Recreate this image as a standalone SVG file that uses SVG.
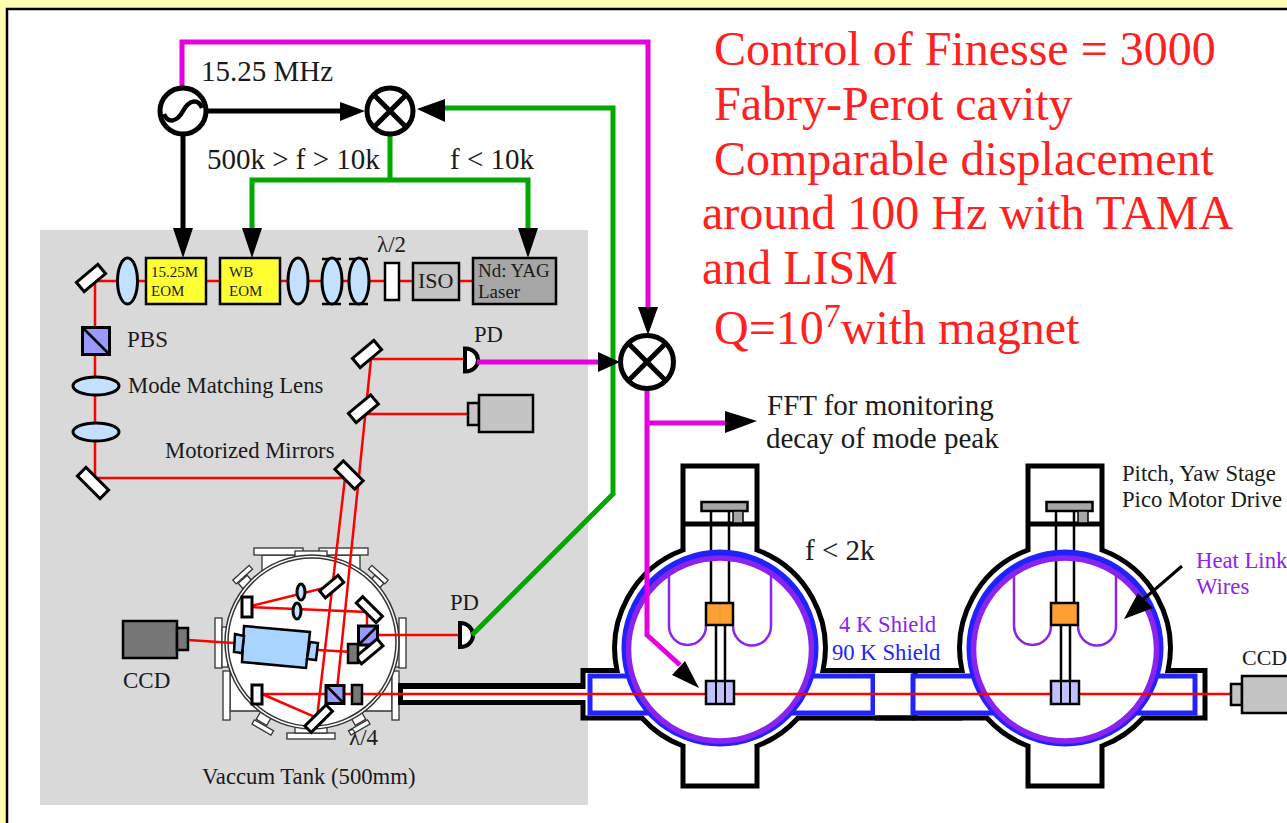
<svg xmlns="http://www.w3.org/2000/svg" xmlns:xlink="http://www.w3.org/1999/xlink" width="1287" height="823" viewBox="0 0 1287 823">
<style>
text{font-family:"Liberation Serif","Times New Roman",serif;fill:#1a1a1a}
.red{fill:#ff2020;font-size:48px}
.s{font-size:22.700px}
.b{font-size:29px}
.mir{fill:#fff;stroke:#000;stroke-width:3}
.lens{fill:#c4e0ff;stroke:#000;stroke-width:3}
.beam{fill:none;stroke:#ff0000;stroke-width:2.500}
.fl{fill:#fff;stroke:#333;stroke-width:1.300}
.pbs{fill:#9999ff;stroke:#000;stroke-width:3}
.gr{fill:none;stroke:#00a800;stroke-width:5}
.mg{fill:none;stroke:#e600e0;stroke-width:5}
.bk{fill:none;stroke:#000;stroke-width:5}
.wall{fill:#fff;stroke:#000;stroke-width:5;stroke-linejoin:miter}
.blue{fill:#fff;stroke:#2222ff;stroke-width:5}
</style>
<defs>
<g id="susp">
<circle cx="720" cy="648" r="95" fill="#fff"/>
<rect x="701.500" y="502" width="46" height="9" fill="#a6a6a6" stroke="#000" stroke-width="2.500"/>
<rect x="733" y="511" width="10" height="12" fill="#a6a6a6" stroke="#000" stroke-width="1.500"/>
<path d="M711 511V603M729 511V603M716 625V681M725 625V681" stroke="#000" stroke-width="2.500" fill="none"/>
<path d="M669 575V626A18.500 19 0 0 0 706 626M771 575V626A18.500 19 0 0 1 733 626" fill="none" stroke="#8a22f0" stroke-width="2.500"/>
<rect x="706" y="603" width="27" height="22" fill="#ff9f33" stroke="#000" stroke-width="2.500"/>
<circle cx="720" cy="648" r="95" fill="none" stroke="#2222ff" stroke-width="7"/>
<circle cx="720" cy="649.500" r="91.500" fill="none" stroke="#8a22f0" stroke-width="5.500"/>
</g>
<g id="test-mass">
<rect x="706" y="681" width="28" height="23" fill="#c0c0ff" stroke="#000" stroke-width="2.500"/>
<path d="M716 681V704M725 681V704" stroke="#000" stroke-width="2"/>
</g>
</defs>
<rect width="1287" height="823" fill="#ffffb0"/>
<rect x="7" y="9" width="1290" height="830" fill="#fff" stroke="#000" stroke-width="2.500"/>
<rect x="40" y="230" width="548" height="575" fill="#d9d9d9"/>

<g id="vacuum-tank">
<path class="fl" d="M262 555V580H360V555ZM230 674V711H262V674ZM392 674V711H360V674Z"/>
<rect class="fl" x="254" y="548" width="49" height="7"/><rect class="fl" x="319" y="548" width="49" height="7"/>
<rect class="fl" x="215" y="618" width="7" height="50"/><rect class="fl" x="223" y="671" width="7" height="49"/>
<rect class="fl" x="222" y="627" width="6" height="40"/><rect class="fl" x="394" y="627" width="6" height="40"/>
<rect class="fl" x="399" y="618" width="7" height="50"/><rect class="fl" x="392" y="671" width="7" height="49"/>
<rect class="fl" x="287" y="733" width="48" height="6"/>
<rect class="fl" x="295" y="725" width="32" height="8"/>
<rect class="fl" x="295" y="551" width="32" height="6"/>
<g class="fl"><rect x="232" y="572" width="22" height="5" transform="rotate(-42 243 575)"/><rect x="240" y="578" width="12" height="10" transform="rotate(-42 246 583)"/>
<rect x="367" y="572" width="22" height="5" transform="rotate(42 378 575)"/><rect x="370" y="578" width="12" height="10" transform="rotate(42 376 583)"/>
<rect x="252" y="725" width="22" height="5" transform="rotate(30 263 727)"/><rect x="258" y="713" width="12" height="10" transform="rotate(30 264 718)"/>
<rect x="348" y="725" width="22" height="5" transform="rotate(-30 359 727)"/><rect x="352" y="713" width="12" height="10" transform="rotate(-30 358 718)"/></g>
<circle cx="312" cy="642" r="87" fill="#fff" stroke="#333" stroke-width="1.500"/>
<circle cx="312" cy="642" r="84" fill="#fff" stroke="#333" stroke-width="1.500"/>
</g>

<g id="pipe">
<rect x="398" y="683" width="190" height="22" fill="#000"/>
<rect x="403" y="689" width="185" height="11" fill="#fff"/>
</g>

<g id="chamber-1">
<path class="wall" d="M580 686.500H583V670.500H617A105 105 0 0 1 683 550V466H757V550A105 105 0 0 1 823 670.500H960V718H798A105 105 0 0 1 757 746V786H683V746A105 105 0 0 1 642 718H583V702.500H580Z"/>
<rect x="570" y="689" width="14" height="11" fill="#fff"/>
<path d="M683 524H757" stroke="#000" stroke-width="5"/>
<rect class="blue" x="590" y="676" width="283" height="37"/>
<rect x="875" y="674" width="37" height="41" fill="#fff"/>
<path d="M875 670.500H915M875 718H915" stroke="#000" stroke-width="5"/>
<use href="#susp" xlink:href="#susp"/>
</g>

<g id="chamber-2">
<path class="wall" d="M915 670.500H962A105 105 0 0 1 1028 550V466H1102V550A105 105 0 0 1 1168 670.500H1205V718H1143A105 105 0 0 1 1102 746V786H1028V746A105 105 0 0 1 987 718H915Z" style="stroke-dasharray:none"/>
<path d="M1028 524H1102" stroke="#000" stroke-width="5"/>
<rect class="blue" x="913" y="676" width="282" height="37"/>
<use href="#susp" xlink:href="#susp" transform="translate(345 0)"/>
</g>

<g id="beams">
<path class="beam" d="M91 281H473M95 281V478H345L317 718L262 694H1232"/>
<path class="beam" d="M371 359L337 690M371 359H463M365 414H468"/>
<path class="beam" d="M188 640L234 643M318 650L353 652M247 607L332 586M250 607L367 612V651L355 657M375 635H458"/>
</g>
<use href="#test-mass" xlink:href="#test-mass"/>
<use href="#test-mass" xlink:href="#test-mass" transform="translate(345 0)"/>

<g id="top-mirror"><rect class="mir" x="77" y="272" width="28" height="12" transform="rotate(-40 91 278)"/></g>
<g id="lens-1"><ellipse class="lens" cx="127.500" cy="281" rx="10" ry="23"/></g>
<g id="eom-1"><rect x="146" y="258" width="60" height="46" fill="#ffff33" stroke="#000" stroke-width="2.500"/><text x="151" y="277" font-size="15">15.25M</text><text x="151" y="296" font-size="15">EOM</text></g>
<g id="eom-2"><rect x="220" y="258" width="60" height="46" fill="#ffff33" stroke="#000" stroke-width="2.500"/><text x="229" y="277" font-size="15">WB</text><text x="229" y="296" font-size="15">EOM</text></g>
<g id="lens-2"><ellipse class="lens" cx="298" cy="281" rx="10" ry="23"/></g>
<g id="lens-3"><path d="M322 259H341M322 304H341M349 259H368M349 304H368" stroke="#000" stroke-width="2.500"/><ellipse class="lens" cx="332" cy="281" rx="10" ry="23"/><ellipse class="lens" cx="359" cy="281" rx="10" ry="23"/></g>
<g id="half-wave"><rect x="385" y="263" width="14" height="37" fill="#fff" stroke="#000" stroke-width="2.500"/><text x="377" y="252" font-size="23">λ/2</text></g>
<g id="iso"><rect x="413" y="263" width="46" height="37" fill="#c4c4c4" stroke="#000" stroke-width="2.500"/><text x="418" y="288" font-size="22">ISO</text></g>
<g id="laser"><rect x="473" y="258" width="83" height="46" fill="#a6a6a6" stroke="#000" stroke-width="2.500"/><text x="478" y="277" font-size="19">Nd: YAG</text><text x="478" y="298" font-size="19">Laser</text></g>
<g id="pbs"><rect class="pbs" x="82.500" y="327.500" width="27" height="27"/><path d="M82.500 327.500L109.500 354.500" stroke="#000" stroke-width="2.500"/><text x="127" y="347" style="font-size:23px">PBS</text></g>
<g id="lens-4"><ellipse class="lens" cx="96" cy="386" rx="23" ry="9"/></g>
<g id="lens-5"><ellipse class="lens" cx="96" cy="432" rx="23" ry="9"/></g>
<text class="s" x="128" y="393">Mode Matching Lens</text>
<g id="left-mirror"><rect class="mir" x="77" y="477" width="32" height="12" transform="rotate(45 93 483)"/></g>
<text class="s" x="165" y="458">Motorized Mirrors</text>
<g id="mirror-3"><rect class="mir" x="335" y="469" width="28" height="12" transform="rotate(45 349 475)"/></g>
<g id="mirror-2"><rect class="mir" x="349" y="403" width="29" height="12" transform="rotate(-40 363 409)"/></g>
<g id="mirror-1"><rect class="mir" x="353" y="348" width="28" height="12" transform="rotate(-40 367 354)"/></g>
<g id="pd-1"><path d="M465 348.500V371.500C473 371.500 478 366 478 360S473 348.500 465 348.500Z" fill="#fff" stroke="#000" stroke-width="4"/><text class="s" x="474" y="342">PD</text></g>
<g id="camera-1"><rect x="468" y="403" width="11" height="22" fill="#c4c4c4" stroke="#000" stroke-width="2.500"/><rect x="479" y="395" width="54" height="37" fill="#c4c4c4" stroke="#000" stroke-width="2.500"/></g>

<g id="tank-optics">
<rect class="mir" x="320" y="582" width="24" height="9" transform="rotate(-40 332 587)"/>
<rect class="mir" x="242" y="597" width="10" height="20"/>
<ellipse class="lens" cx="301" cy="592" rx="4" ry="8" stroke-width="2.500"/>
<ellipse class="lens" cx="297" cy="611" rx="4" ry="8" stroke-width="2.500"/>
<rect class="mir" x="355" y="605" width="28" height="9" transform="rotate(45 369 610)"/>
<rect class="pbs" x="358.500" y="626" width="19" height="19"/><path d="M358.500 645L377.500 626" stroke="#000" stroke-width="2.500"/>
<rect class="mir" x="355" y="647" width="28" height="9" transform="rotate(-40 369 651)"/>
<rect x="348" y="644" width="10" height="19" fill="#777" stroke="#000" stroke-width="2.500"/>
<path d="M244 626L310 632L306 668L242 662Z" fill="#a8d4ff" stroke="#000" stroke-width="2.500"/>
<path d="M235 634L244 636L242 653L234 652ZM310 642L318 643L316 660L307 659Z" fill="#a8d4ff" stroke="#000" stroke-width="2.500"/>
<rect class="mir" x="252" y="685" width="10" height="19"/>
<rect class="pbs" x="326" y="685.500" width="18" height="18"/><path d="M326 685.500L344 703.500" stroke="#000" stroke-width="2.500"/>
<rect x="352" y="685" width="10" height="19" fill="#777" stroke="#000" stroke-width="2.500"/>
<rect class="mir" x="304" y="714" width="30" height="9" transform="rotate(-45 319 719)"/>
<text x="349" y="745" style="font-size:23px">λ/4</text>
</g>
<g id="ccd-left"><rect x="123" y="621" width="54" height="37" fill="#777" stroke="#000" stroke-width="2.500"/><rect x="177" y="628" width="11" height="22" fill="#777" stroke="#000" stroke-width="2.500"/><text x="123" y="688" style="font-size:23px">CCD</text></g>
<text class="s" x="202" y="784">Vaccum Tank (500mm)</text>
<g id="pd-2"><path d="M460 623V647C468 647 473 641 473 635S468 623 460 623Z" fill="#fff" stroke="#000" stroke-width="4"/><text class="s" x="450" y="610">PD</text></g>
<g id="ccd-right"><rect x="1231" y="684" width="11" height="21" fill="#c4c4c4" stroke="#000" stroke-width="2.500"/><rect x="1242" y="676" width="60" height="37" fill="#c4c4c4" stroke="#000" stroke-width="2.500"/><text x="1242" y="665" style="font-size:22px">CCD</text></g>

<g id="connectors">
<path class="gr" d="M390 135V180M252 232V180H528V232"/>
<path class="gr" d="M472 635L613 494V108H442"/>
<path class="mg" d="M182 90V42H648V310"/>
<path class="mg" d="M477 362H600"/>
<path class="mg" d="M647 388V635L680 665"/>
<path class="mg" d="M647 423H728"/>
<path class="bk" d="M208 111H342M183 135V232"/>
<path d="M365 111L340 102V121ZM183 258L173 228H193ZM252 258L242 228H262ZM528 258L518 228H538ZM417 109L445 99V122ZM620 362L598 352V372ZM648 335L638 307H658ZM757 421L725 411V433ZM699 688L685 661L672 675Z" fill="#000"/>
<path d="M1182 566L1130 611" stroke="#000" stroke-width="3"/>
<path d="M1124 619L1138 593L1153 608Z" fill="#000"/>
</g>

<g id="source"><circle cx="183" cy="111" r="23" fill="#fff" stroke="#000" stroke-width="5"/><path d="M164 114C168 124 177 122 183 111S198 98 202 108" fill="none" stroke="#000" stroke-width="4.500"/></g>
<g id="mixer-1"><circle cx="390" cy="111" r="23" fill="#fff" stroke="#000" stroke-width="5"/><path d="M374 95L406 127M374 127L406 95" stroke="#000" stroke-width="5"/></g>
<g id="mixer-2"><circle cx="647" cy="362" r="26.500" fill="#fff" stroke="#000" stroke-width="5"/><path d="M629 344L665 380M629 380L665 344" stroke="#000" stroke-width="5"/></g>

<g id="labels">
<text class="b" x="201" y="81">15.25 MHz</text>
<text class="b" x="207" y="169">500k &gt; f &gt; 10k</text>
<text class="b" x="450" y="169">f &lt; 10k</text>
<text class="b" x="767" y="415">FFT for monitoring</text>
<text class="b" x="766" y="448">decay of mode peak</text>
<text class="b" x="805" y="560">f &lt; 2k</text>
<text class="s" x="1122" y="481">Pitch, Yaw Stage</text>
<text class="s" x="1122" y="507">Pico Motor Drive</text>
<text class="s" x="839" y="632" style="fill:#8a22f0">4 K Shield</text>
<text class="s" x="832" y="660" style="fill:#2222ff">90 K Shield</text>
<text class="s" x="1196" y="568" style="fill:#8a22f0">Heat Link</text>
<text class="s" x="1196" y="594" style="fill:#8a22f0">Wires</text>
<text class="red" x="714" y="65">Control of Finesse = 3000</text>
<text class="red" x="714" y="120">Fabry-Perot cavity</text>
<text class="red" x="714" y="175">Comparable displacement</text>
<text class="red" x="702" y="229">around 100 Hz with TAMA</text>
<text class="red" x="702" y="284">and LISM</text>
<text class="red" x="714" y="344">Q=10<tspan dy="-17" style="font-size:34px">7</tspan><tspan dy="17">with magnet</tspan></text>
</g>
</svg>
